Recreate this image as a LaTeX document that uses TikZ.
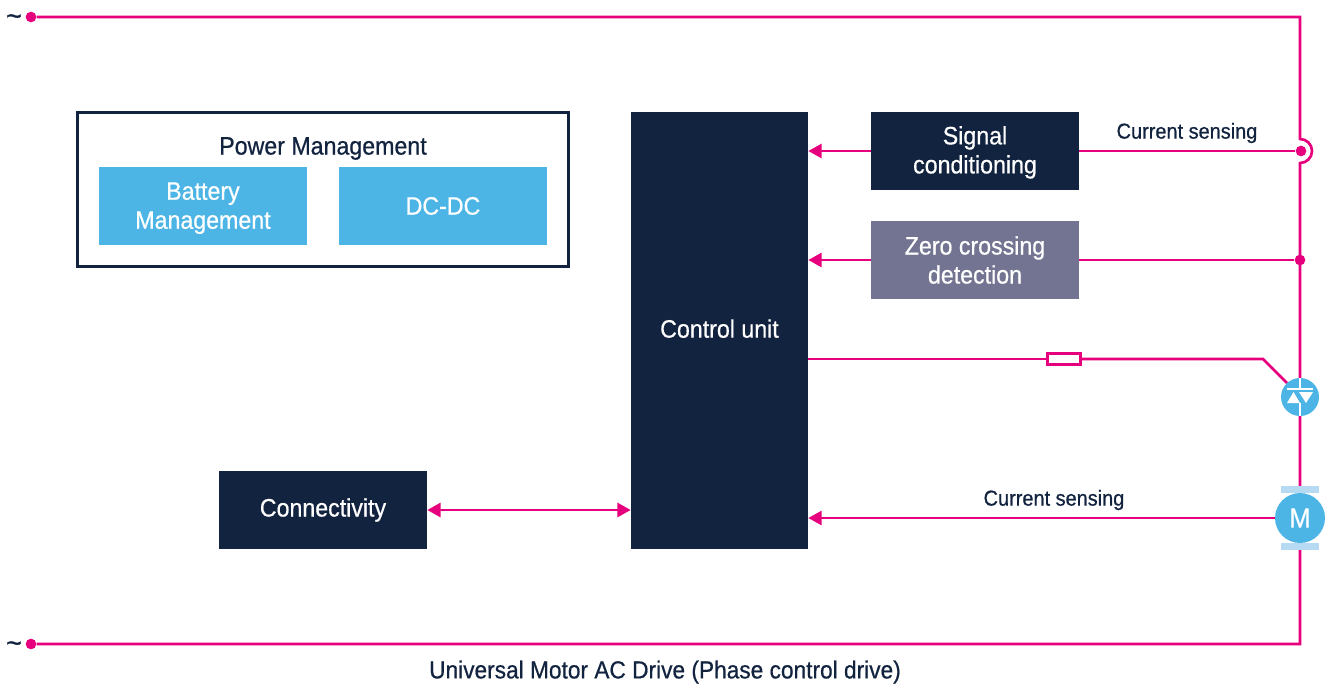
\documentclass[tikz,border=0pt]{standalone}
\usepackage{fontspec}
\setmainfont{Liberation Sans}[FakeStretch=0.92,FakeBold=0.6]
\definecolor{navy}{HTML}{12233F}
\definecolor{sky}{HTML}{4DB5E6}
\definecolor{pale}{HTML}{B5DAF2}
\definecolor{slate}{HTML}{737491}
\definecolor{wire}{HTML}{E6007E}
\usetikzlibrary{arrows.meta}
\tikzset{
	block/.style={minimum width=156pt,minimum height=58.5pt,align=center,text=white,inner sep=0pt,font=\fontsize{18.9}{21.75}\selectfont},
	lbl/.style={text=navy,inner sep=0pt},
	link/.style={wire,line width=2pt},
	arrow/.style={link,-{Triangle[length=10pt,width=10.5pt]}},
	dot/.style={circle,fill=wire,inner sep=0pt,minimum size=8pt},
}
\begin{document}
\begin{tikzpicture}[x=0.75pt,y=-0.75pt]
	\useasboundingbox (0,0) rectangle (1326,683);
	\node[draw=navy,line width=1.8pt,minimum width=368pt,minimum height=115.5pt,inner sep=0pt] (power) at (323,189.5) {};
	\node[lbl,font=\fontsize{18.9}{21.75}\selectfont] (powerlabel) at (323,148.5) {Power Management};
	\node[block,fill=sky,text height=38pt] (battery) at (203,206) {Battery\\Management};
	\node[block,fill=sky] (dcdc) at (443,206) {DC-DC};
	\node[block,fill=navy,minimum width=132.75pt,minimum height=327.75pt,text depth=3pt] (control) at (719.5,330.5) {Control unit};
	\node[block,fill=navy,text height=37.5pt] (signal) at (975,151) {Signal\\conditioning};
	\node[block,fill=slate] (zero) at (975,260) {Zero crossing\\detection};
	\node[block,fill=navy] (connectivity) at (323,510) {Connectivity};
	\node[dot] (top) at (31,17) {};
	\node[dot] (bottom) at (31,644) {};
	\node[lbl,font=\fontsize{22}{24}\selectfont] (toptilde) at (14,20) {\textasciitilde};
	\node[lbl,font=\fontsize{22}{24}\selectfont] (bottomtilde) at (14,647) {\textasciitilde};
	\node[dot] (sense) at (1301,151) {};
	\node[dot] (cross) at (1300,260) {};
	\node[draw=wire,fill=white,line width=2pt,minimum width=25pt,minimum height=8pt,inner sep=0pt] (resistor) at (1064,359) {};
	\coordinate (bend) at (1263,359);
	\coordinate (gate) at (1287,383);
	\coordinate (topright) at (1300,17);
	\coordinate (bottomright) at (1300,644);
	\coordinate (jumpin) at (1300,139);
	% main rail
	\draw[link] (top) -- (topright) -- (jumpin) arc[start angle=-90,end angle=90,radius=12] -- (bottomright) -- (bottom);
	\draw[link] (sense) -- (signal);
	\draw[link] (cross) -- (zero);
	\draw[arrow] (signal) -- (signal -| control.east);
	\draw[arrow] (zero) -- (zero -| control.east);
	\draw[link] (control.east |- resistor) -- (resistor);
	\draw[link] (resistor) -- (bend) -- (gate);
	% triac
	\node[circle,fill=sky,minimum size=28.5pt,inner sep=0pt] (triac) at (1300,397) {};
	\fill[white] (1287,388) rectangle (1313,390);
	\fill[white] (1299,378) rectangle (1301,389);
	\fill[white] (1299,403) rectangle (1301,416);
	\fill[white] (1287,403) -- (1293.5,392) -- (1300,403) -- cycle;
	\fill[white] (1299,392) -- (1313,392) -- (1306,403) -- cycle;
	% motor
	\fill[pale] (1281,486) rectangle (1319,493);
	\fill[pale] (1281,543) rectangle (1319,550);
	\node[circle,fill=sky,minimum size=37.5pt,inner sep=0pt,text=white,font=\fontsize{21}{24}\selectfont] (motor) at (1300,518) {M};
	\draw[arrow] (motor) -- (motor -| control.east);
	\draw[arrow,{Triangle[length=10pt,width=10.5pt]}-{Triangle[length=10pt,width=10.5pt]}] (connectivity) -- (connectivity -| control.west);
	\node[lbl,font=\fontsize{16.25}{18}\selectfont] (sensinga) at (1187,133) {Current sensing};
	\node[lbl,font=\fontsize{16.25}{18}\selectfont] (sensingb) at (1054,500) {Current sensing};
	\node[lbl,font=\fontsize{18.5}{20}\selectfont] (title) at (665,672) {Universal Motor AC Drive (Phase control drive)};
\end{tikzpicture}
\end{document}
